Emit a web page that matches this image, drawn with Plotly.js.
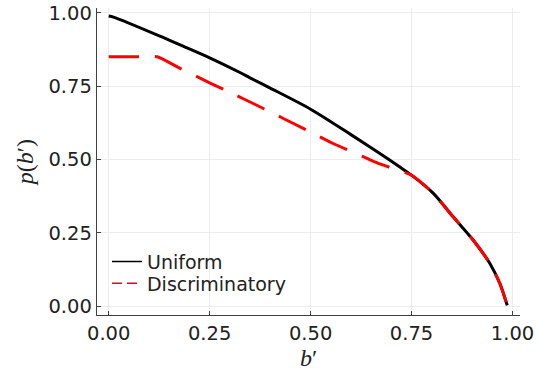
<!DOCTYPE html>
<html>
<head>
<meta charset="utf-8">
<script src="https://cdn.plot.ly/plotly-3.0.1.min.js"></script>
<style>html,body{margin:0;padding:0;background:#fff;}#chart{width:539px;height:371px;}</style>
</head>
<body>
<div id="chart"></div>
<script>
// Uniform auction curve
const uniformX = [0.0, 0.012, 0.127, 0.177, 0.25, 0.325, 0.35, 0.40, 0.5, 0.598, 0.68, 0.722, 0.75, 0.804, 0.853, 0.903, 0.944, 0.969, 0.987];
const uniformY = [0.99, 0.986, 0.921, 0.891, 0.847, 0.797, 0.779, 0.744, 0.672, 0.587, 0.513, 0.474, 0.447, 0.385, 0.305, 0.225, 0.146, 0.077, 0.003];
// Discriminatory auction curve
const discX = [0.0, 0.078, 0.12, 0.177, 0.25, 0.301, 0.363, 0.5, 0.556, 0.627, 0.668, 0.75, 0.804, 0.853, 0.903, 0.944, 0.969, 0.987];
const discY = [0.851, 0.851, 0.851, 0.811, 0.762, 0.729, 0.688, 0.594, 0.555, 0.512, 0.487, 0.447, 0.385, 0.305, 0.225, 0.146, 0.077, 0.003];
const seriesNames = ["Uniform", "Discriminatory"];
const tickVals = [0, 0.25, 0.5, 0.75, 1.0];
const tickText = ["0.00", "0.25", "0.50", "0.75", "1.00"];

const traces = [
  {x: uniformX, y: uniformY, type: "scatter", mode: "lines", name: seriesNames[0], showlegend: false,
   line: {color: "#000000", width: 3, shape: "spline", smoothing: 0.8}},
  {x: discX, y: discY, type: "scatter", mode: "lines", name: seriesNames[1], showlegend: false,
   line: {color: "#ff0000", width: 3, dash: "30px,16px", shape: "spline", smoothing: 0.6}},
  // legend-only entries (thin sample lines as in the reference)
  {x: [null], y: [null], type: "scatter", mode: "lines", name: seriesNames[0], legend: "legend",
   line: {color: "#000000", width: 1.5}},
  {x: [null], y: [null], type: "scatter", mode: "lines", name: seriesNames[1], legend: "legend2",
   line: {color: "#ff0000", width: 1.5, dash: "10px,5px"}}
];

const axisCommon = {
  showline: true, linecolor: "#404040", linewidth: 1.3, mirror: false,
  ticks: "inside", ticklen: 4, tickcolor: "#404040", tickwidth: 1,
  showgrid: true, gridcolor: "#ececec", gridwidth: 1, zeroline: false,
  tickvals: tickVals, ticktext: tickText,
  tickfont: {family: "DejaVu Sans", size: 19.5, color: "#222"}
};

const legendCommon = {xanchor: "left", yanchor: "middle", bgcolor: "rgba(255,255,255,0)",
  borderwidth: 0, font: {family: "DejaVu Sans", size: 19, color: "#222"}};

const layout = {
  width: 539, height: 371,
  margin: {l: 97, r: 19, t: 8, b: 56},
  paper_bgcolor: "#fff", plot_bgcolor: "#fff",
  showlegend: true,
  legend: Object.assign({}, legendCommon, {x: 0.0236, y: 0.1736}),
  legend2: Object.assign({}, legendCommon, {x: 0.0236, y: 0.1033}),
  xaxis: Object.assign({}, axisCommon, {range: [-0.029, 1.0186],
    title: {text: "<i>b</i>′", font: {family: "Liberation Serif", size: 24, color: "#222"}, standoff: 4}}),
  yaxis: Object.assign({}, axisCommon, {range: [-0.0297, 1.017],
    title: {text: "<i>p</i>(<i>b</i>′)", font: {family: "Liberation Serif", size: 24, color: "#222"}, standoff: 8}})
};

Plotly.newPlot("chart", traces, layout, {displayModeBar: false, staticPlot: true});
</script>
</body>
</html>
